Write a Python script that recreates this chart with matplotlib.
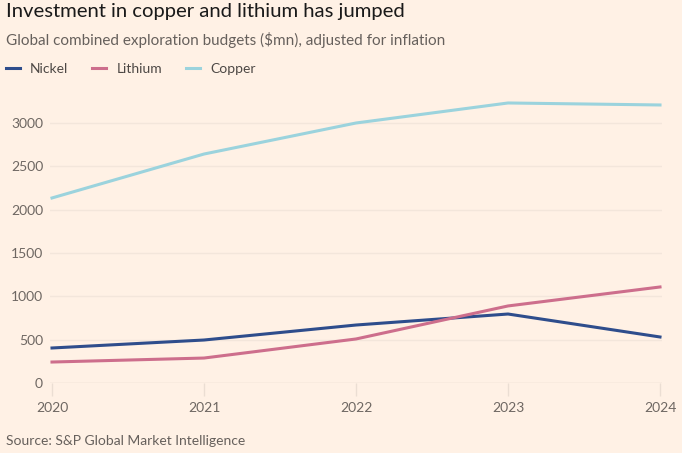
import numpy as np
import matplotlib.pyplot as plt

plt.rcParams['font.family'] = ['Lato', 'DejaVu Sans']

years = [2020, 2021, 2022, 2023, 2024]
nickel = [404, 496, 669, 796, 531]
lithium = [242, 288, 508, 889, 1108]
copper = [2135, 2642, 3000, 3231, 3208]

bg = '#FFF1E5'
fig = plt.figure(figsize=(6.82, 4.53), dpi=100, facecolor=bg)
ax = fig.add_axes([50/682, 70/453, 612/682, (383-97)/453])
ax.set_facecolor(bg)

ax.plot(years, nickel, color='#2E4D8C', lw=2.2, label='Nickel')
ax.plot(years, lithium, color='#CD6E8C', lw=2.2, label='Lithium')
ax.plot(years, copper, color='#9BD3DD', lw=2.2, label='Copper')

m = 2/608*4
ax.set_xlim(2020 - m, 2024 + m)
ax.set_ylim(0, 3300)
ax.set_yticks(np.arange(0, 3001, 500))
ax.set_xticks(years)
ax.grid(axis='y', color='#F3E6DB', lw=1)
ax.set_axisbelow(True)
for s in ax.spines.values():
    s.set_visible(False)
ax.axhline(0, color='#EBDED3', lw=1, zorder=0)
ax.tick_params(axis='y', length=0, pad=5, labelsize=10, labelcolor='#6E6762')
ax.tick_params(axis='x', length=9, width=1, color='#EBDED3', pad=5, labelsize=10, labelcolor='#6E6762')

fig.text(6/682, 1 - 12/453, 'Investment in copper and lithium has jumped', fontsize=14.6,
         color='#1A1A1A', va='center', ha='left')
fig.text(6/682, 1 - 40/453, 'Global combined exploration budgets ($mn), adjusted for inflation',
         fontsize=11, color='#66605C', va='center', ha='left')
fig.legend(loc='upper left', bbox_to_anchor=(6/682, 1 - 63/453), ncol=3, frameon=False,
           fontsize=10, handlelength=1.0, columnspacing=1.75, handletextpad=0.72,
           borderpad=0, borderaxespad=0, labelcolor='#4D4845')
fig.text(6/682, 1 - 441/453, 'Source: S&P Global Market Intelligence', fontsize=10,
         color='#66605C', va='center', ha='left')

fig.savefig('out.png', dpi=100, facecolor=bg)
